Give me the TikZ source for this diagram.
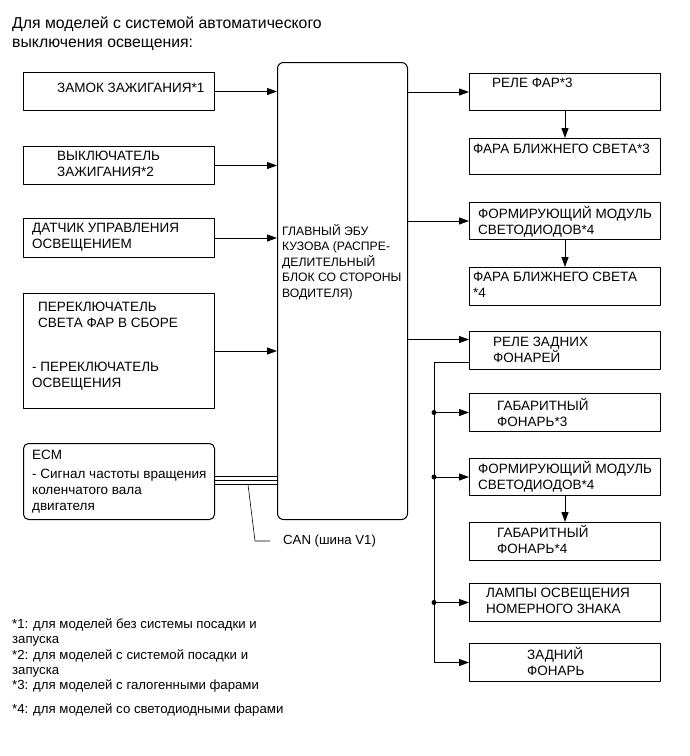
\documentclass[tikz,border=0pt]{standalone}
\usepackage{fontspec}
\setmainfont{Liberation Sans}
\usetikzlibrary{arrows.meta,calc}
\begin{document}
\begin{tikzpicture}[x=1pt,y=-1pt,>={Stealth[length=10pt,width=7pt,inset=0pt]},line join=round,font=\fontsize{13.5}{16}\selectfont]
	\tikzset{blk/.style={draw,line width=1pt,anchor=north west,inner sep=0pt},
		lbl/.style={anchor=west,align=left,inner sep=0pt},
		wire/.style={line width=1pt,->}}
	\useasboundingbox (0,0) rectangle (690,756);
	% blocks
	\foreach \n/\x/\y/\w/\h in {zamok/23/72/191/38,vykl/23/146/191/38,datchik/23/218/191/39,perekl/23/293/191/115,
		rele/469/73/191/37,fara3/469/138/191/36,led1/469/202/191/37,fara4/469/267/191/38,
		relez/469/331/191/38,gab3/469/393/191/38,led2/469/458/191/37,gab4/469/522/191/38,
		lampy/469/583/191/38,zad/469/643/191/38}{
		\node[blk,minimum width=\w pt,minimum height=\h pt] (\n) at (\x,\y) {};
	}
	\node[blk,rounded corners=5pt,minimum width=191pt,minimum height=76pt] (ecm) at (23,443) {};
	\node[blk,rounded corners=6pt,minimum width=130pt,minimum height=457pt] (ebu) at (277,62) {};
	% texts
	\node[lbl,font=\fontsize{15.8}{19}\selectfont] (title) at (12,33.5) {Для моделей с системой автоматического\\выключения освещения:};
	\foreach \n/\x/\y/\t in {zamok-t/57/88/{ЗАМОК ЗАЖИГАНИЯ*1},vykl-t/57/164/{ВЫКЛЮЧАТЕЛЬ\\ЗАЖИГАНИЯ*2},
		datchik-t/32/237.5/{ДАТЧИК УПРАВЛЕНИЯ\\ОСВЕЩЕНИЕМ},perekl-t/38/315/{ПЕРЕКЛЮЧАТЕЛЬ\\СВЕТА ФАР В СБОРЕ},
		osv-t/32/376/{- ПЕРЕКЛЮЧАТЕЛЬ\\ОСВЕЩЕНИЯ},ecm-t/32/455/{ECM},sig-t/32/491/{- Сигнал частоты вращения\\коленчатого вала\\двигателя},
		rele-t/492/83/{РЕЛЕ ФАР*3},fara3-t/473/149/{ФАРА БЛИЖНЕГО СВЕТА*3},led1-t/478/222/{ФОРМИРУЮЩИЙ МОДУЛЬ\\СВЕТОДИОДОВ*4},
		fara4-t/473/285/{ФАРА БЛИЖНЕГО СВЕТА\\*4},relez-t/493/350/{РЕЛЕ ЗАДНИХ\\ФОНАРЕЙ},gab3-t/497/412.5/{ГАБАРИТНЫЙ\\ФОНАРЬ*3},
		led2-t/478/477/{ФОРМИРУЮЩИЙ МОДУЛЬ\\СВЕТОДИОДОВ*4},gab4-t/497/539.5/{ГАБАРИТНЫЙ\\ФОНАРЬ*4},
		lampy-t/486/601/{ЛАМПЫ ОСВЕЩЕНИЯ\\НОМЕРНОГО ЗНАКА},zad-t/527/661/{ЗАДНИЙ\\ФОНАРЬ}}{
		\node[lbl] (\n) at (\x,\y) {\t};
	}
	\node[lbl,font=\fontsize{12.2}{15.5}\selectfont] (ebu-t) at (282,262) {ГЛАВНЫЙ ЭБУ\\КУЗОВА (РАСПРЕ-\\ДЕЛИТЕЛЬНЫЙ\\БЛОК СО СТОРОНЫ\\ВОДИТЕЛЯ)};
	\node[lbl,font=\fontsize{13.2}{16}\selectfont] (can) at (283,541) {CAN (шина V1)};
	\node[lbl,font=\fontsize{13.2}{15.3}\selectfont] (foot) at (12,655.5) {*1: для моделей без системы посадки и\\запуска\\*2: для моделей с системой посадки и\\запуска\\*3: для моделей с галогенными фарами};
	\node[lbl,font=\fontsize{13.2}{15.5}\selectfont] (foot4) at (12,710) {*4: для моделей со светодиодными фарами};
	% inputs
	\foreach \n in {zamok,vykl,datchik,perekl}{
		\draw[wire] (\n) -- (\n -| ebu.west);
	}
	% CAN bus
	\foreach \s in {5,1,-3}{
		\draw[line width=1.6pt] ([yshift=\s pt]ecm.east) -- ([yshift=\s pt]ecm.east -| ebu.west);
	}
	\coordinate (cs) at ($(ecm.east)+(33,3)$);
	\draw[line width=0.6pt] (cs) -- ($(can.west)+(-28,0)$) -- ([xshift=-13pt]can.west);
	% outputs
	\coordinate (rz) at ([yshift=11pt]relez.west);
	\draw[wire] (rele -| ebu.east) -- (rele);
	\draw[wire] (led1 -| ebu.east) -- (led1);
	\draw[wire] (rz -| ebu.east) -- (rz);
	\foreach \a/\b in {rele/fara3,led1/fara4,led2/gab4}{
		\draw[wire] (\a.south) -- (\b.north);
	}
	% tail lamp trunk
	\coordinate (tr) at ($(relez.west)+(-35,12)$);
	\draw[wire] ([yshift=-12pt]relez.west) -- (tr) |- (zad);
	\foreach \n in {gab3,led2,lampy}{
		\draw[wire] (tr |- \n) -- (\n);
		\fill (tr |- \n) circle (2.5pt);
	}
\end{tikzpicture}
\end{document}
